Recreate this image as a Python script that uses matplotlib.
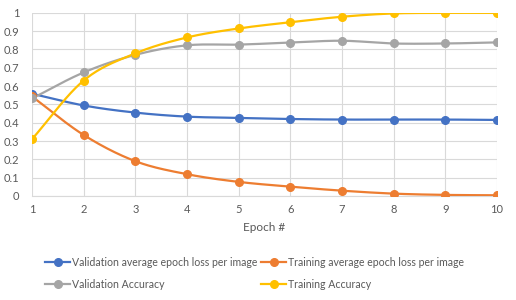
import numpy as np
import matplotlib
matplotlib.use("Agg")
import matplotlib.pyplot as plt
from matplotlib.lines import Line2D

epochs = [1, 2, 3, 4, 5, 6, 7, 8, 9, 10]
val_loss = [0.558, 0.494, 0.455, 0.433, 0.426, 0.420, 0.417, 0.417, 0.417, 0.415]
train_loss = [0.543, 0.333, 0.190, 0.119, 0.077, 0.051, 0.029, 0.013, 0.006, 0.004]
val_acc = [0.532, 0.674, 0.770, 0.822, 0.826, 0.837, 0.847, 0.832, 0.832, 0.838]
train_acc = [0.310, 0.630, 0.778, 0.865, 0.914, 0.948, 0.978, 0.996, 0.999, 0.999]

labels = ["Validation average epoch loss per image",
          "Training average epoch loss per image",
          "Validation Accuracy",
          "Training Accuracy"]
colors = ["#4472C4", "#ED7D31", "#A5A5A5", "#FFC000"]
series = [val_loss, train_loss, val_acc, train_acc]

plt.rcParams['font.family'] = ['Lato', 'DejaVu Sans']
TXT = "#595959"


def smooth(x, y, n=20):
    # Catmull-Rom rendering of the polyline (like Excel's smoothed line)
    x = np.asarray(x, float); y = np.asarray(y, float)
    px = np.concatenate([[2 * x[0] - x[1]], x, [2 * x[-1] - x[-2]]])
    py = np.concatenate([[2 * y[0] - y[1]], y, [2 * y[-1] - y[-2]]])
    xs, ys = [], []
    t = np.linspace(0, 1, n, endpoint=False)
    for i in range(1, len(px) - 2):
        p0, p1, p2, p3 = [np.array([px[j], py[j]]) for j in (i - 1, i, i + 1, i + 2)]
        m1 = (p2 - p0) / 6.0
        m2 = (p3 - p1) / 6.0
        b0, b1, b2, b3 = p1, p1 + m1, p2 - m2, p2
        for tt in t:
            pt = ((1 - tt) ** 3) * b0 + 3 * ((1 - tt) ** 2) * tt * b1 + 3 * (1 - tt) * tt ** 2 * b2 + tt ** 3 * b3
            xs.append(pt[0]); ys.append(pt[1])
    xs.append(x[-1]); ys.append(y[-1])
    return np.array(xs), np.array(ys)


fig = plt.figure(figsize=(5.16, 3.0), dpi=100)
ax = fig.add_axes([32 / 516, 1 - 196 / 300, (497 - 32) / 516, (196 - 12.7) / 300])

for s, c in zip(series, colors):
    sx, sy = smooth(epochs, s)
    ax.plot(sx, sy, color=c, lw=1.6, zorder=3, solid_capstyle='round')
    ax.plot(epochs, s, 'o', color=c, ms=5.5, zorder=4)

ax.set_xlim(1, 10)
ax.set_ylim(0, 1)
ax.set_xticks(epochs)
ax.set_yticks(np.round(np.arange(0, 1.01, 0.1), 1))
ax.set_yticklabels(["0"] + [f"{v:.1f}" for v in np.arange(0.1, 0.95, 0.1)] + ["1"])
ax.grid(True, color="#D9D9D9", lw=0.8)
ax.set_axisbelow(True)
for sp in ["top", "right", "left"]:
    ax.spines[sp].set_visible(False)
ax.spines["bottom"].set_color("#D9D9D9")
ax.tick_params(axis='both', length=0, labelsize=8, colors=TXT)
ax.tick_params(axis='x', pad=6)
ax.tick_params(axis='y', pad=9)
ax.set_xlabel("Epoch #", fontsize=8.5, color=TXT, labelpad=5)

handles = [Line2D([], [], color=c, lw=1.6, marker='o', ms=5.5) for c in colors]
order = [0, 2, 1, 3]
leg = fig.legend([handles[i] for i in order], [labels[i] for i in order],
                 ncol=2, loc='upper left', bbox_to_anchor=(45 / 516, 1 - 257 / 300),
                 frameon=False, fontsize=7.6, handlelength=2.4, handletextpad=0.2,
                 columnspacing=0.3, labelspacing=1.0, borderaxespad=0, borderpad=0)
for t in leg.get_texts():
    t.set_color(TXT)

fig.savefig("out.png", dpi=100)
